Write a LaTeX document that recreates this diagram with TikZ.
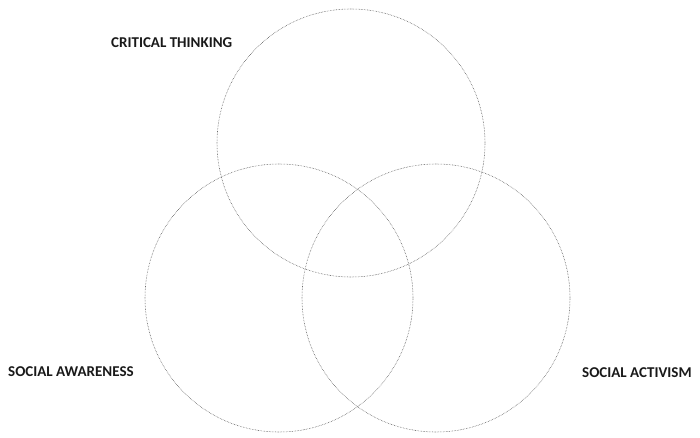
\documentclass[tikz,border=0pt]{standalone}
\usepackage{fontspec}
\setmainfont{Carlito}
\begin{document}
\begin{tikzpicture}[x=1pt,y=-1pt,
  ring/.style={draw=black!70,line width=0.55pt,densely dotted},
  lbl/.style={font=\bfseries\fontsize{15}{17}\selectfont,inner sep=0pt,text=black!90}]
\useasboundingbox (0,0) rectangle (700,438);
\node[ring,circle,minimum size=268pt,inner sep=0pt] (ct) at (351,143) {};
\node[ring,circle,minimum size=268pt,inner sep=0pt] (sw) at (279,298) {};
\node[ring,circle,minimum size=268pt,inner sep=0pt] (sa) at (436,298) {};
\node[lbl,anchor=west] (tct) at (111,43) {CRITICAL THINKING};
\node[lbl,anchor=west] (tsw) at (8,372) {SOCIAL AWARENESS};
\node[lbl,anchor=west] (tsa) at (582,373) {SOCIAL ACTIVISM};
\end{tikzpicture}
\end{document}
